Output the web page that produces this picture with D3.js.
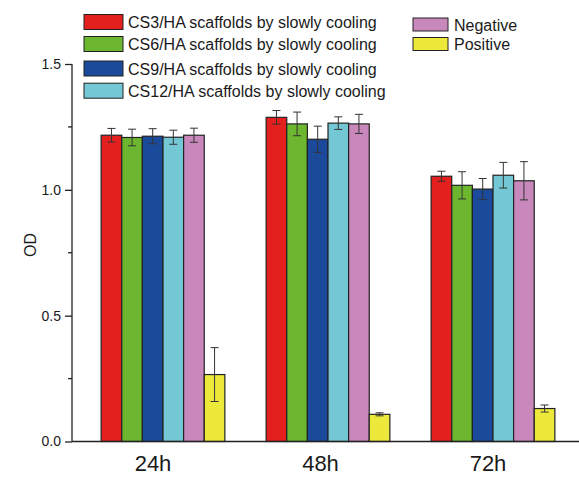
<!DOCTYPE html>
<html>
<head>
<meta charset="utf-8">
<script src="https://cdn.jsdelivr.net/npm/d3@7"></script>
<style>
  body { margin: 0; background: #fff; }
  svg text { font-family: "Liberation Sans", Arial, sans-serif; fill: #1a1a1a; }
</style>
</head>
<body>
<svg width="579" height="477"></svg>
<script>
// time points
const categories = ["24h", "48h", "72h"];
// series names (legend order)
const seriesNames = [
  "CS3/HA scaffolds by slowly cooling",
  "CS6/HA scaffolds by slowly cooling",
  "CS9/HA scaffolds by slowly cooling",
  "CS12/HA scaffolds by slowly cooling",
  "Negative",
  "Positive"
];
const seriesColors = ["#e4201e", "#6cb630", "#1b4a9b", "#74c8d5", "#c888bb", "#ede93a"];

// mean OD per series, one value per time point
const cs3 = [1.217, 1.288, 1.054];
const cs6 = [1.208, 1.262, 1.018];
const cs9 = [1.213, 1.201, 1.003];
const cs12 = [1.209, 1.265, 1.058];
const negative = [1.217, 1.262, 1.036];
const positive = [0.266, 0.108, 0.131];

// error (half-height of the bar)
const cs3Err = [0.027, 0.027, 0.020];
const cs6Err = [0.033, 0.047, 0.054];
const cs9Err = [0.030, 0.052, 0.042];
const cs12Err = [0.028, 0.025, 0.051];
const negativeErr = [0.028, 0.038, 0.076];
const positiveErr = [0.107, 0.006, 0.014];

const yTicks = [0, 0.5, 1.0, 1.5];
const yMinorTicks = [0.25, 0.75, 1.25];

const values = [cs3, cs6, cs9, cs12, negative, positive];
const errors = [cs3Err, cs6Err, cs9Err, cs12Err, negativeErr, positiveErr];

const svg = d3.select("svg");
const axisX = 72, baseY = 441.5, topY = 64;

const y = d3.scaleLinear().domain([0, 1.5]).range([baseY, topY]);
const x0 = d3.scaleBand().domain(categories).range([80.5, 575.5])
  .paddingInner(0.25).paddingOuter(0.125);
const x1 = d3.scaleBand().domain(d3.range(seriesNames.length)).range([0, x0.bandwidth()]);
// category labels sit a little left of the group centres in the original
const xl = d3.scalePoint().domain(categories).range([152.5, 487.5]);

// flatten to bar records
const bars = [];
categories.forEach((c, ci) => {
  values.forEach((s, si) => {
    bars.push({cat: c, s: si, v: s[ci], e: errors[si][ci]});
  });
});

const gBars = svg.append("g");
gBars.selectAll("rect")
  .data(bars)
  .join("rect")
    .attr("x", d => x0(d.cat) + x1(d.s))
    .attr("y", d => y(d.v))
    .attr("width", x1.bandwidth())
    .attr("height", d => y(0) - y(d.v))
    .attr("fill", d => seriesColors[d.s])
    .attr("stroke", "#222")
    .attr("stroke-width", 1.2);

// error bars
const capW = 4;
const gErr = svg.append("g").attr("stroke", "#333").attr("stroke-width", 1);
const eb = gErr.selectAll("g").data(bars).join("g")
  .attr("transform", d => `translate(${x0(d.cat) + x1(d.s) + x1.bandwidth() / 2},0)`);
eb.append("line")
  .attr("y1", d => y(d.v + d.e)).attr("y2", d => y(d.v - d.e));
eb.append("line")
  .attr("x1", -capW).attr("x2", capW)
  .attr("y1", d => y(d.v + d.e)).attr("y2", d => y(d.v + d.e));
eb.append("line")
  .attr("x1", -capW).attr("x2", capW)
  .attr("y1", d => y(d.v - d.e)).attr("y2", d => y(d.v - d.e));

// y axis
const yAxis = d3.axisLeft(y).tickValues(yTicks).tickFormat(d3.format(".1f")).tickSize(7).tickPadding(4);
const gy = svg.append("g").attr("transform", `translate(${axisX},0)`).call(yAxis);
gy.select(".domain").attr("stroke", "#222").attr("stroke-width", 1.3)
  .attr("d", `M0,${topY}V${baseY}`);
gy.selectAll(".tick line").attr("stroke", "#222").attr("stroke-width", 1.3);
gy.selectAll(".tick text").attr("font-size", 14).attr("font-family", "Liberation Sans, Arial, sans-serif").attr("fill", "#1a1a1a");
gy.selectAll(".minor").data(yMinorTicks).join("line")
  .attr("class", "minor")
  .attr("x1", -4).attr("x2", 0)
  .attr("y1", d => y(d)).attr("y2", d => y(d))
  .attr("stroke", "#222").attr("stroke-width", 1.3);

// x axis baseline
svg.append("line")
  .attr("x1", axisX).attr("x2", 579)
  .attr("y1", baseY).attr("y2", baseY)
  .attr("stroke", "#222").attr("stroke-width", 1.5);

const xAxis = d3.axisBottom(xl).tickSize(0).tickPadding(14);
const gx = svg.append("g").attr("transform", `translate(0,${baseY})`).call(xAxis);
gx.select(".domain").remove();
gx.selectAll(".tick text").attr("font-size", 22).attr("font-family", "Liberation Sans, Arial, sans-serif").attr("fill", "#1a1a1a");

// y label
svg.append("text")
  .attr("transform", "translate(36,245) rotate(-90)")
  .attr("text-anchor", "middle")
  .attr("font-size", 16)
  .text("OD");

// legend
const legendLeft = [0, 1, 2, 3];
const legendRight = [4, 5];
const leftRows = [22, 44, 68.5, 90.7];
const rightRows = [24.5, 44];

const gl = svg.append("g");
const li = gl.selectAll("g.l").data(legendLeft).join("g").attr("class", "l")
  .attr("transform", (d, i) => `translate(84,${leftRows[i]})`);
li.append("rect").attr("x", 0).attr("y", -7.5).attr("width", 39).attr("height", 15)
  .attr("fill", d => seriesColors[d]).attr("stroke", "#222").attr("stroke-width", 1);
li.append("text").attr("x", 44).attr("y", 6).attr("font-size", 16).text(d => seriesNames[d]);

const ri = gl.selectAll("g.r").data(legendRight).join("g").attr("class", "r")
  .attr("transform", (d, i) => `translate(413,${rightRows[i]})`);
ri.append("rect").attr("x", 0).attr("y", -6.5).attr("width", 35).attr("height", 13)
  .attr("fill", d => seriesColors[d]).attr("stroke", "#222").attr("stroke-width", 1);
ri.append("text").attr("x", 41).attr("y", 6).attr("font-size", 16).text(d => seriesNames[d]);
</script>
</body>
</html>
